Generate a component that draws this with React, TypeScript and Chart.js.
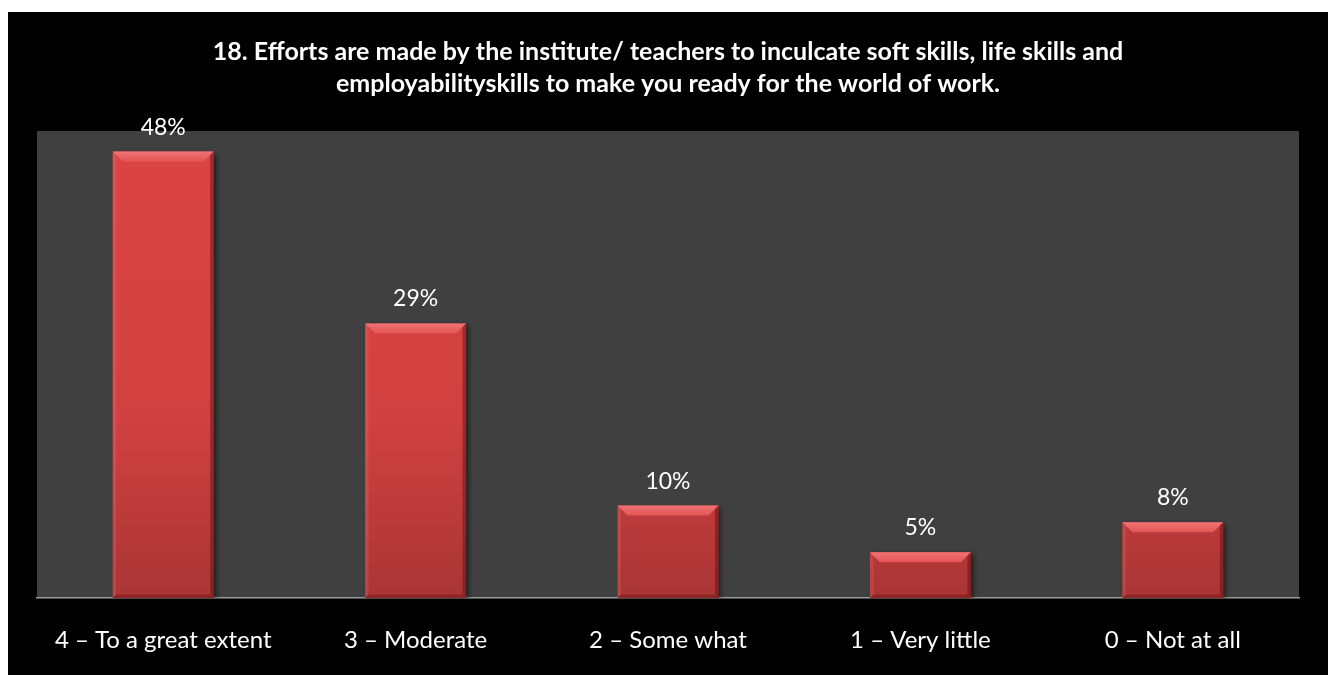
import React, { useEffect, useRef } from "react";
import { Chart, registerables } from "chart.js";

Chart.register(...registerables);

const titleLines = [
  "18. Efforts are made by the institute/ teachers to inculcate soft skills, life skills and",
  "employabilityskills to make you ready for the world of work.",
];
const categories = [
  "4 \u2013 To a great extent",
  "3 \u2013 Moderate",
  "2 \u2013 Some what",
  "1 \u2013 Very little",
  "0 \u2013 Not at all",
];
const percentValues = [47.8, 29.4, 9.9, 4.9, 8.1];
const percentLabels = ["48%", "29%", "10%", "5%", "8%"];

const FONT = "Lato, 'Open Sans', sans-serif";

const plotBgPlugin = {
  id: "plotBg",
  beforeDraw(chart: any) {
    const { ctx, chartArea } = chart;
    ctx.save();
    ctx.fillStyle = "#404040";
    ctx.fillRect(chartArea.left, chartArea.top, chartArea.right - chartArea.left, chartArea.bottom - chartArea.top);
    ctx.restore();
  },
};

const bevelPlugin = {
  id: "bevel",
  beforeDatasetsDraw(chart: any) {
    const ctx = chart.ctx;
    ctx.save();
    ctx.shadowColor = "rgba(0,0,0,0.55)";
    ctx.shadowBlur = 5;
    ctx.shadowOffsetX = 3;
    ctx.shadowOffsetY = 2;
  },
  afterDatasetsDraw(chart: any) {
    const ctx = chart.ctx;
    ctx.restore();
    const meta = chart.getDatasetMeta(0);
    ctx.save();
    meta.data.forEach((bar: any, i: number) => {
      const { x, y, base, width } = bar.getProps(["x", "y", "base", "width"], true);
      const l = x - width / 2;
      const r = x + width / 2;
      const b = Math.min(10, (base - y) / 2);
      const tg = ctx.createLinearGradient(0, y, 0, y + b);
      tg.addColorStop(0, "#f07474");
      tg.addColorStop(1, "#e45454");
      ctx.fillStyle = tg;
      ctx.beginPath();
      ctx.moveTo(l, y);
      ctx.lineTo(r, y);
      ctx.lineTo(r - b, y + b);
      ctx.lineTo(l + b, y + b);
      ctx.closePath();
      ctx.fill();
      ctx.fillStyle = "rgba(255,120,120,0.22)";
      ctx.beginPath();
      ctx.moveTo(l, y);
      ctx.lineTo(l + b * 0.35, y + b * 0.35);
      ctx.lineTo(l + b * 0.35, base - b * 0.35);
      ctx.lineTo(l, base);
      ctx.closePath();
      ctx.fill();
      ctx.fillStyle = "rgba(90,10,10,0.45)";
      ctx.beginPath();
      ctx.moveTo(r, y);
      ctx.lineTo(r - b * 0.35, y + b * 0.35);
      ctx.lineTo(r - b * 0.35, base - b * 0.35);
      ctx.lineTo(r, base);
      ctx.closePath();
      ctx.fill();
      ctx.fillStyle = "rgba(90,10,10,0.35)";
      ctx.beginPath();
      ctx.moveTo(l, base);
      ctx.lineTo(r, base);
      ctx.lineTo(r - b * 0.35, base - b * 0.35);
      ctx.lineTo(l + b * 0.35, base - b * 0.35);
      ctx.closePath();
      ctx.fill();
      ctx.fillStyle = "#ffffff";
      ctx.font = "23px " + FONT;
      ctx.textAlign = "center";
      ctx.textBaseline = "alphabetic";
      ctx.fillText(percentLabels[i], x, y - 17);
    });
    ctx.restore();
  },
};

export default function App() {
  const canvasRef = useRef<HTMLCanvasElement | null>(null);

  useEffect(() => {
    if (!canvasRef.current) return;
    const chart = new Chart(canvasRef.current, {
      type: "bar",
      data: {
        labels: categories,
        datasets: [
          {
            data: percentValues,
            backgroundColor: (c: any) => {
              const { chart } = c;
              const area = chart.chartArea;
              if (!area) return "#d94343";
              const g = chart.ctx.createLinearGradient(0, area.top, 0, area.bottom);
              g.addColorStop(0, "#db4444");
              g.addColorStop(0.6, "#d24141");
              g.addColorStop(1, "#aa3535");
              return g;
            },
            borderWidth: 0,
            barPercentage: 0.4,
            categoryPercentage: 1.0,
          },
        ],
      },
      options: {
        animation: false,
        responsive: true,
        maintainAspectRatio: false,
        layout: { padding: { left: 29, right: 37, top: 0, bottom: 0 } },
        plugins: {
          legend: { display: false },
          tooltip: { enabled: false },
          title: {
            display: true,
            text: titleLines,
            color: "#ffffff",
            font: { family: FONT, size: 25, weight: "bold", lineHeight: "32px" },
            padding: { top: 24, bottom: 31 },
          },
        },
        scales: {
          x: {
            grid: { display: false, drawTicks: false },
            border: { display: true, color: "#9a9a9a", width: 1.5 },
            ticks: {
              color: "#ffffff",
              font: { family: FONT, size: 24, lineHeight: "24px" },
              padding: 30,
              maxRotation: 0,
              autoSkip: false,
            },
            afterFit: (scale: any) => {
              scale.height = 77;
            },
          },
          y: {
            display: false,
            min: 0,
            max: 50,
          },
        },
      },
      plugins: [plotBgPlugin, bevelPlugin],
    });
    return () => chart.destroy();
  }, []);

  return (
    <div style={{ width: 1328, height: 663, marginTop: 4, background: "#000", position: "relative" }}>
      <canvas ref={canvasRef} />
    </div>
  );
}
